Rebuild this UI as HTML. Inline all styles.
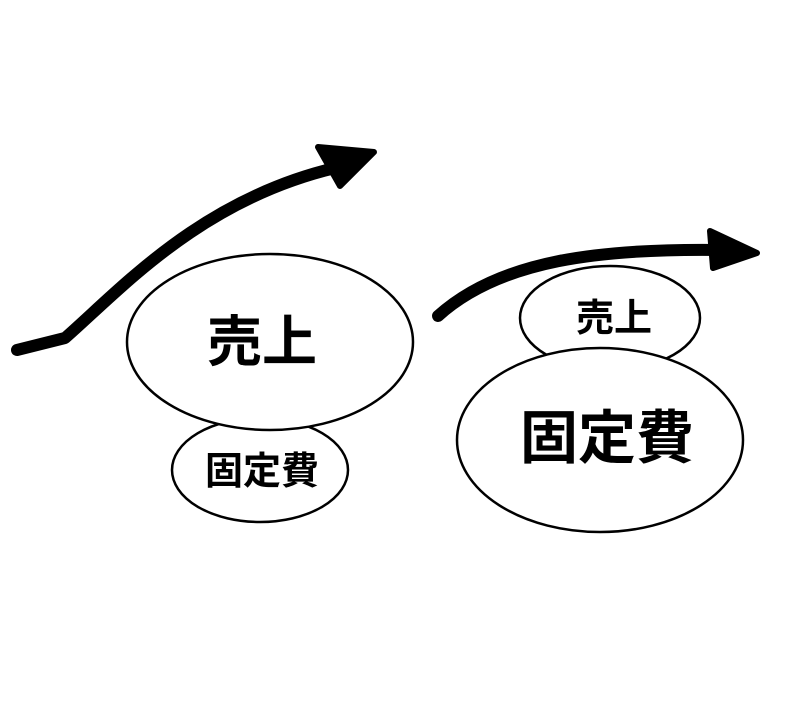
<!DOCTYPE html>
<html><head><meta charset="utf-8"><style>html,body{margin:0;padding:0;background:#fff}</style></head>
<body>
<svg width="800" height="720" viewBox="0 0 800 720" xmlns="http://www.w3.org/2000/svg" font-family="'Liberation Sans','Noto Sans CJK JP',sans-serif" font-weight="bold">
<rect width="800" height="720" fill="#fff"/>
<path d="M17,350 L65,338 C120,290 200,200 335,168" fill="none" stroke="#000" stroke-width="12" stroke-linecap="round" stroke-linejoin="round"/>
<path d="M318,147 L374,152 L340,186 Z" fill="#000" stroke="#000" stroke-width="6" stroke-linejoin="round"/>
<ellipse cx="260" cy="470" rx="88" ry="52" fill="#fff" stroke="#000" stroke-width="2.5"/>
<ellipse cx="270" cy="342" rx="143" ry="88" fill="#fff" stroke="#000" stroke-width="2.5"/>
<text x="262" y="361" font-size="55" text-anchor="middle">売上</text>
<text x="262" y="484" font-size="38" text-anchor="middle">固定費</text>
<path d="M438,316 C500,260 600,248 725,250" fill="none" stroke="#000" stroke-width="12" stroke-linecap="round"/>
<path d="M710,231 L757,253 L713,268 Z" fill="#000" stroke="#000" stroke-width="6" stroke-linejoin="round"/>
<ellipse cx="610" cy="318" rx="90" ry="52" fill="#fff" stroke="#000" stroke-width="2.5"/>
<ellipse cx="600" cy="440" rx="143" ry="92" fill="#fff" stroke="#000" stroke-width="2.5"/>
<text x="614" y="331" font-size="38" text-anchor="middle">売上</text>
<text x="607" y="458" font-size="58" text-anchor="middle">固定費</text>
</svg>
</body></html>
